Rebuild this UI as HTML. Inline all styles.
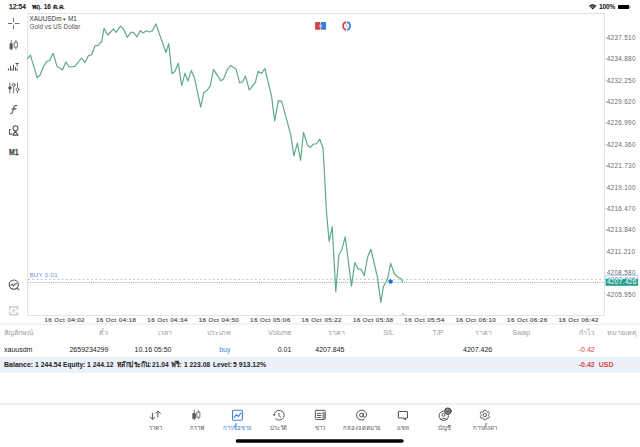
<!DOCTYPE html>
<html><head><meta charset="utf-8">
<style>
*{margin:0;padding:0;box-sizing:border-box}
html,body{width:640px;height:447px;overflow:hidden;background:#fff;font-family:"Liberation Sans",sans-serif;color:#222}
.a{position:absolute;white-space:nowrap;line-height:1}
#st1{left:9px;top:4px;font-size:6.8px;color:#111;-webkit-text-stroke:0.25px #111}
#st2{left:32px;top:4px;font-size:6.6px;font-weight:bold;color:#111}
#st3{left:599px;top:4px;font-size:6.6px;color:#111;font-weight:bold;letter-spacing:-0.15px}
.pl{left:606.7px;font-size:6.4px;color:#6a6a6a;letter-spacing:0.3px;margin-top:0.6px}
.tl{top:317px;font-size:6.2px;color:#5a5a5a;letter-spacing:0.42px;-webkit-text-stroke:0.2px #5a5a5a}
.th{top:329.2px;font-size:7px;color:#999}
.td{top:345.5px;font-size:7px;color:#222}
.r{text-align:right}
.bal{top:360.6px;font-size:7.4px;font-weight:bold;color:#222;transform:scaleX(0.9);transform-origin:0 0}
.tab{top:424.8px;font-size:6px;color:#5a5a5a;text-align:center;width:40px}
</style></head><body>
<div class="a" id="st1">12:54</div>
<div class="a" id="st2">พฤ. 16 ต.ค.</div>
<div class="a" id="st3">100%</div>

<svg width="640" height="447" style="position:absolute;left:0;top:0">
 <!-- chart frame -->
 <path d="M27.5 13.5 H604.5 V315.5 H27.5 Z" fill="none" stroke="#e2e2e2" stroke-width="1"/>
 <path d="M604.5 37.50 H606.3 M604.5 58.89 H606.3 M604.5 80.28 H606.3 M604.5 101.67 H606.3 M604.5 123.06 H606.3 M604.5 144.45 H606.3 M604.5 165.84 H606.3 M604.5 187.23 H606.3 M604.5 208.62 H606.3 M604.5 230.01 H606.3 M604.5 251.40 H606.3 M604.5 272.79 H606.3 M604.5 294.18 H606.3" stroke="#c8c8c8" stroke-width="0.8"/>
 <!-- separators -->
 <line x1="0" y1="324" x2="640" y2="324" stroke="#e6e6e6" stroke-width="1"/>
 <rect x="0" y="356.8" width="640" height="15.9" fill="#ecf0f8"/>
 <line x1="0" y1="403.8" x2="640" y2="403.8" stroke="#e3e3e3" stroke-width="1.3"/>
 <!-- home indicator -->
 <rect x="235.7" y="439.3" width="168" height="3.5" rx="1.75" fill="#000"/>
 <!-- order lines -->
 <line x1="28" y1="279.4" x2="604" y2="279.4" stroke="#bcc3da" stroke-width="1" stroke-dasharray="2 2.2"/>
 <line x1="28" y1="282.5" x2="604" y2="282.5" stroke="#9fb0b0" stroke-width="1" stroke-dasharray="1 1.1"/>
 <!-- price line -->
 <polyline fill="none" stroke="#60aa89" stroke-width="1.2" stroke-linejoin="round" points="27.4,58.8 30.4,55.2 37.2,77.8 40.1,75 43.3,66.8 46.5,61.6 49.8,60.3 53,53.3 56.9,65.9 62.5,70 65.9,61.9 69.2,67 74.8,66.4 81.5,58 84.9,62.6 88.2,55.9 91.6,54.7 95,45.8 98.3,45.3 101.8,41.3 104,28.3 107.8,35 113.4,29 116.1,32.4 120.6,26.1 123.5,29 127.3,37.3 130.9,32.4 133.6,32.4 136.9,36.8 140.3,30.6 143,33 146.5,30.8 149.2,32 152.6,30.6 155.9,23.9 160.4,36.8 166,52.5 168.7,43.6 172,73.8 174.9,71.5 178.3,63.2 181.7,85.6 185,73.1 187.9,81.1 191.3,70.4 194.5,77.9 200.7,107 203.9,92.4 206.1,91.3 210.1,86.4 213.5,69.4 220.9,80.8 223.6,79 227.6,68.9 230.7,65.6 235.9,68.9 239.7,82.8 242.6,81.9 245.5,76.1 249.3,90.2 255.3,82.4 258.2,71.2 261.6,73.4 264.9,68.5 271.7,96.9 274.6,120.9 278.4,100.7 281.7,101.4 290.7,134.6 293.9,155.9 297.4,143.1 300.6,160.3 303.5,132.4 307.3,144.7 310.2,147.6 313.6,144 316.2,144 319.8,139.1 323,148 324.7,177.1 326.3,210 329.1,241.4 332.2,226.8 335.8,291.7 338.9,254.8 341.8,249.7 345.2,236.9 351.5,286.1 354.8,262.6 358,268.9 361.3,269.4 364.2,275.6 367.6,257 370.9,249.2 377.4,276.8 380.8,302.3 383.5,286.2 387.5,279.5 390.6,263.4 394.6,274.2 398.3,277.5 400.3,278.2 403,282.2"/>
 <path d="M403 312.2 L405.3 315.6 H400.8 Z" fill="#cfcfcf"/>
 <!-- blue dot -->
 <path d="M390.6 279 L393 280.8 L392.1 283.6 L389.1 283.6 L388.2 280.8 Z" fill="#1e6fd9"/>
 <!-- price tags -->
 <rect x="605.8" y="275.6" width="32" height="4" fill="#fff" stroke="#8fb8e0" stroke-width="0.6"/>
 <rect x="605.6" y="278.8" width="32.5" height="7" fill="#26a08c"/>
</svg>

<div class="a" style="left:29.5px;top:15.8px;font-size:6.4px;color:#333">XAUUSDm <span style="font-size:5px;position:relative;top:-0.3px">▾</span>&nbsp;M1</div>
<div class="a" style="left:29.5px;top:23.5px;font-size:6.4px;color:#555">Gold vs US Dollar</div>

<!-- price labels -->
<div class="a pl" style="top:34.2px">4237.510</div>
<div class="a pl" style="top:55.6px">4234.880</div>
<div class="a pl" style="top:77px">4232.250</div>
<div class="a pl" style="top:98.4px">4229.620</div>
<div class="a pl" style="top:119.8px">4226.990</div>
<div class="a pl" style="top:141.2px">4224.360</div>
<div class="a pl" style="top:162.6px">4221.730</div>
<div class="a pl" style="top:184px">4219.100</div>
<div class="a pl" style="top:205.4px">4216.470</div>
<div class="a pl" style="top:226.8px">4213.840</div>
<div class="a pl" style="top:248.2px">4211.210</div>
<div class="a pl" style="top:269.6px">4208.580</div>
<div class="a pl" style="top:291px">4205.950</div>
<div class="a pl" style="top:276.3px;color:#6aa0d8;left:606.9px;clip-path:inset(0 0 55% 0)">4207.845</div>
<div class="a pl" style="top:278.9px;color:#fff;left:606.9px;font-size:6.7px;letter-spacing:0.25px">4207.426</div>

<!-- time labels -->
<div class="a tl" style="left:44.5px">16 Oct 04:02</div>
<div class="a tl" style="left:95.9px">16 Oct 04:18</div>
<div class="a tl" style="left:147.3px">16 Oct 04:34</div>
<div class="a tl" style="left:198.7px">16 Oct 04:50</div>
<div class="a tl" style="left:250.1px">16 Oct 05:06</div>
<div class="a tl" style="left:301.5px">16 Oct 05:22</div>
<div class="a tl" style="left:352.9px">16 Oct 05:38</div>
<div class="a tl" style="left:404.3px">16 Oct 05:54</div>
<div class="a tl" style="left:455.7px">16 Oct 06:10</div>
<div class="a tl" style="left:507.1px">16 Oct 06:26</div>
<div class="a tl" style="left:558.5px">16 Oct 06:42</div>

<div class="a" style="left:29.5px;top:271.5px;font-size:6.1px;color:#5b93d3;letter-spacing:0.3px">BUY 0.01</div>

<!-- table header -->
<div class="a th" style="left:4px">สัญลักษณ์</div>
<div class="a th r" style="right:531.6px">ตั๋ว</div>
<div class="a th r" style="right:468.5px">เวลา</div>
<div class="a th r" style="right:409.5px">ประเภท</div>
<div class="a th r" style="right:348.3px">Volume</div>
<div class="a th r" style="right:295.5px">ราคา</div>
<div class="a th r" style="right:246.3px">S/L</div>
<div class="a th r" style="right:196.5px">T/P</div>
<div class="a th r" style="right:147.8px">ราคา</div>
<div class="a th r" style="right:109.9px">Swap</div>
<div class="a th r" style="right:45.3px">กำไร</div>
<div class="a th r" style="right:2.7px">หมายเหตุ</div>

<!-- data row -->
<div class="a td" style="left:4px">xauusdm</div>
<div class="a td r" style="right:531.6px">2659234299</div>
<div class="a td r" style="right:468.5px">10.16 05:50</div>
<div class="a td r" style="right:409.5px;color:#3a86d4">buy</div>
<div class="a td r" style="right:348.7px">0.01</div>
<div class="a td r" style="right:295.5px">4207.845</div>
<div class="a td r" style="right:147.8px">4207.426</div>
<div class="a td r" style="right:45.3px;color:#d9463e">-0.42</div>

<!-- balance row -->
<div class="a bal" style="left:4.2px;transform:scaleX(0.947)">Balance:</div>
<div class="a bal" style="left:34.5px;transform:scaleX(0.914)">1 244.54</div>
<div class="a bal" style="left:62.9px;transform:scaleX(0.89)">Equity:</div>
<div class="a bal" style="left:87.1px;transform:scaleX(0.92)">1 244.12</div>
<div class="a bal" style="left:116.5px;transform:scaleX(0.888)">หลักประกัน:</div>
<div class="a bal" style="left:152.25px;transform:scaleX(0.9)">21.04</div>
<div class="a bal" style="left:171.25px;transform:scaleX(0.93)">ฟรี:</div>
<div class="a bal" style="left:183.9px;transform:scaleX(0.907)">1 223.08</div>
<div class="a bal" style="left:212.6px;transform:scaleX(0.89)">Level:</div>
<div class="a bal" style="left:233.2px;transform:scaleX(0.94)">5 913.12%</div>
<div class="a r" style="right:45.3px;top:361px;font-size:7px;font-weight:bold;color:#d9463e">-0.42</div>
<div class="a" style="left:598.8px;top:361px;font-size:7px;font-weight:bold;color:#d9463e">USD</div>

<!-- left M1 -->
<div class="a" style="left:8.7px;top:148.3px;font-size:8.6px;font-weight:bold;color:#444;-webkit-text-stroke:0.25px #444;transform:scaleX(0.8);transform-origin:0 0">M1</div>

<!-- tab labels -->
<div class="a tab" style="left:135.4px">ราคา</div>
<div class="a tab" style="left:176.5px">กราฟ</div>
<div class="a tab" style="left:217.6px;color:#3a86d4">การซื้อขาย</div>
<div class="a tab" style="left:258.8px">ประวัติ</div>
<div class="a tab" style="left:300.2px">ข่าว</div>
<div class="a tab" style="left:341.6px">กล่องจดหมาย</div>
<div class="a tab" style="left:382.8px">แชท</div>
<div class="a tab" style="left:424px">บัญชี</div>
<div class="a tab" style="left:465.3px">การตั้งค่า</div>


<svg width="640" height="447" style="position:absolute;left:0;top:0" fill="none" stroke-linecap="round" stroke-linejoin="round">
 <!-- status wifi -->
 <path d="M592.7 9.6 L588.9 5.9 A5.4 5.4 0 0 1 596.5 5.9 Z" fill="#111" stroke="none"/>
 <path d="M589.9 6.9 A4 4 0 0 1 595.5 6.9" stroke="#fff" stroke-width="0.55"/>
 <path d="M591.1 8.1 A2.3 2.3 0 0 1 594.3 8.1" stroke="#fff" stroke-width="0.55"/>
 <!-- battery -->
 <rect x="618" y="5.1" width="11.2" height="3.9" rx="0.8" fill="#000"/>
 <rect x="629.8" y="6.2" width="0.9" height="1.7" fill="#888"/>
 <!-- crosshair -->
 <g stroke="#6a6a6a" stroke-width="1">
  <path d="M8.3 23.5 H11.8 M15.2 23.5 H19 M13.5 18.6 V21.6 M13.5 25.6 V28.8"/>
 </g>
 <!-- candles left -->
 <g stroke="#555" stroke-width="0.8">
  <path d="M11.25 40.3 V49.8 M15.95 40.3 V49.2"/>
  <rect x="10.1" y="43.7" width="2.3" height="5" fill="#555" stroke-width="0.6"/>
  <rect x="14.6" y="42.3" width="2.8" height="4.8" fill="#fff"/>
 </g>
 <!-- indicators -->
 <g fill="#555">
  <rect x="7.9" y="68.3" width="1" height="2.4"/>
  <rect x="10" y="66.1" width="1" height="4.6"/>
  <rect x="11.4" y="68.4" width="1" height="2.3"/>
  <rect x="13" y="64.8" width="1" height="5.9"/>
  <rect x="15" y="67" width="1" height="3.7"/>
  <rect x="16.6" y="68.4" width="1" height="2.3"/>
  <path d="M15.5 63 H18.8 V63.9 H17.6 V66.5 H16.7 V63.9 H15.5 Z"/>
 </g>
 <!-- sliders -->
 <g stroke="#555" stroke-width="0.85">
  <path d="M9.9 83 V92.9 M13.7 86.6 V92.9 M17.5 83 V87.9 M17.5 91.1 V92.9"/>
  <ellipse cx="9.9" cy="87.9" rx="1.3" ry="1.2" fill="#555"/>
  <circle cx="13.7" cy="84.9" r="1.45" fill="#fff"/>
  <circle cx="17.5" cy="89.5" r="1.45" fill="#fff"/>
 </g>
 <!-- f -->
 <path d="M16.8 105.6 Q14.5 104.9 13.8 107.5 L12.6 112.2 Q12.1 114 10.6 113.8 M12.1 108.9 H16" stroke="#555" stroke-width="1.1"/>
 <!-- shapes -->
 <g stroke="#555" stroke-width="1.05">
  <circle cx="15.5" cy="128.2" r="2.45"/>
  <path d="M15.4 131.1 L12.7 135.1 H18.1 Z" fill="#fff"/>
  <path d="M10.4 129.6 H9.5 V134.1 H11.6"/>
 </g>
 <!-- zoom chart -->
 <g stroke="#4a4a4a" stroke-width="1.05">
  <circle cx="13.8" cy="284.6" r="4.6"/>
  <path d="M17.2 288 L18.8 289.6"/>
  <path d="M11 285.1 L12.3 284.2 L13.5 286 L14.8 284.2 L16.6 283.4"/>
 </g>
 <!-- plus frame -->
 <g>
  <rect x="8.9" y="305.9" width="9.4" height="9.5" rx="0.8" fill="#cfcfcf"/>
  <rect x="8.5" y="309.8" width="10.2" height="1.8" fill="#fff"/>
  <circle cx="13.6" cy="310.7" r="3.4" fill="#fff"/>
  <path d="M13.6 308.8 V312.6 M11.7 310.7 H15.5" stroke="#cfcfcf" stroke-width="1"/>
 </g>
 <!-- top center icons -->
 <rect x="315.1" y="22.1" width="5.3" height="7.6" rx="0.6" fill="#cc4a3e"/>
 <rect x="320.9" y="22.1" width="5.2" height="7.6" rx="0.6" fill="#3c7dd2"/>
 <circle cx="320.6" cy="25.9" r="1.5" fill="#b8c8e8"/>
 <path d="M346.1 22.2 A3.9 3.9 0 0 0 346.1 29.8" stroke="#c54a42" stroke-width="1.7" stroke-linecap="butt"/>
 <path d="M347.1 22.2 A3.9 3.9 0 0 1 347.1 29.8" stroke="#3c7fd6" stroke-width="1.7" stroke-linecap="butt"/>
 <path d="M346.6 24 V26.5 L347.6 27" stroke="#7aa0d0" stroke-width="0.6"/>
 <!-- tab icons -->
 <g stroke="#555" stroke-width="1">
  <path d="M152.4 413.2 V419 M150.3 417.1 L152.4 419.3 L154.8 417.1"/>
  <path d="M157.9 417 V411.3 M155.5 413.4 L157.9 411 L160.5 413.4"/>
 </g>
 <g stroke="#555" stroke-width="0.8">
  <path d="M194.25 410.1 V419.8 M198.6 410.7 V418.6"/>
  <rect x="192.9" y="413.5" width="2.7" height="5" fill="#555" stroke-width="0.6"/>
  <rect x="197.3" y="412.1" width="2.6" height="5.1" fill="#fff"/>
 </g>
 <g stroke="#3a80d6" stroke-width="1.1">
  <rect x="232.5" y="410.3" width="9.9" height="9.9" rx="1.1"/>
  <path d="M234.2 417.4 L236.5 414.5 L238.3 416.6 L240.8 413.2"/>
 </g>
 <g stroke="#555" stroke-width="1">
  <path d="M274.1 415.3 A5 5 0 1 1 275.6 418.8"/>
  <path d="M273 414.3 L274.1 415.5 L275.2 414.3" stroke-width="0.8"/>
  <path d="M278.9 413.2 V415.6 L280.7 417.3"/>
 </g>
 <g stroke="#555" stroke-width="1">
  <rect x="315.3" y="410.3" width="10" height="9.3" rx="1"/>
  <path d="M317.3 413.4 H320.9 M317.3 415.5 H320.9 M317.3 417.5 H320.9"/>
  <rect x="323.3" y="412.3" width="2" height="7.2" fill="#999" stroke="none"/>
  <path d="M323 412 V419.6" stroke-width="0.8"/>
 </g>
 <g stroke="#555" stroke-width="1">
  <circle cx="361.5" cy="415.1" r="1.9"/>
  <path d="M363.4 413.5 V416.2 Q363.6 417.6 365 417.2 Q366.6 416.6 366.6 415 A5 5 0 1 0 364.2 419.4"/>
 </g>
 <g stroke="#555" stroke-width="1.1">
  <path d="M399.3 411.5 H406.5 Q407.5 411.5 407.5 412.5 V417 Q407.5 418 406.5 418 H405.5 L405.3 419.8 L403 418 H399.3 Q398.3 418 398.3 417 V412.5 Q398.3 411.5 399.3 411.5 Z"/>
 </g>
 <g stroke="#555" stroke-width="1">
  <circle cx="443.8" cy="415.8" r="4.7"/>
  <circle cx="443.6" cy="414.8" r="1.5"/>
  <path d="M440.6 419.4 Q443.8 416.9 447 419.4"/>
  <circle cx="447.9" cy="411.2" r="4.2" fill="#fff" stroke="none"/>
  <circle cx="447.9" cy="411.2" r="3.3" fill="#8a8a8a" stroke="#444" stroke-width="1"/>
  <path d="M446.5 411.2 L447.6 412.3 L449.4 410.2" stroke="#333" stroke-width="0.8"/>
 </g>
 <g stroke="#555" stroke-width="0.95">
  <path d="M483.47 411.62 L484.01 410.22 L485.71 410.22 L486.25 411.62 L487.14 412.13 L488.61 411.90 L489.46 413.37 L488.52 414.54 L488.52 415.56 L489.46 416.73 L488.61 418.20 L487.14 417.97 L486.25 418.48 L485.71 419.88 L484.01 419.88 L483.47 418.48 L482.58 417.97 L481.11 418.20 L480.26 416.73 L481.20 415.56 L481.20 414.54 L480.26 413.37 L481.11 411.90 L482.58 412.13 Z"/>
  <circle cx="484.86" cy="415.05" r="1.7"/>
 </g>
</svg>
</body></html>
